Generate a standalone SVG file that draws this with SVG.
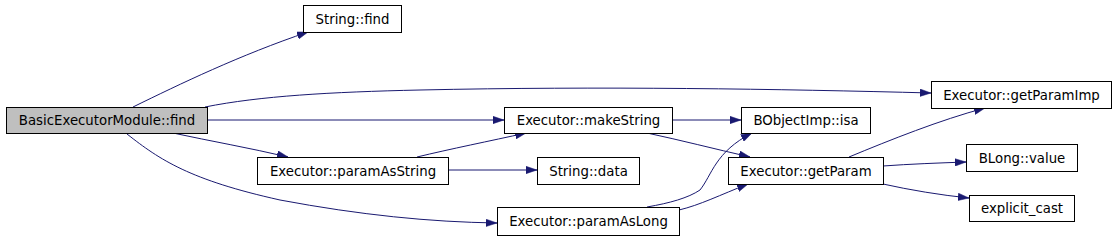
<svg xmlns="http://www.w3.org/2000/svg" width="1117" height="240" viewBox="0 0 1117 240">
<style>
.n rect{fill:#fff;stroke:#000;stroke-width:1}
.n.h rect{fill:#bfbfbf}
.n text{font-family:"DejaVu Sans",sans-serif;font-size:13.3px;text-anchor:middle;fill:#000}
.e path{fill:none;stroke:#191970;stroke-width:1;marker-end:url(#a)}
</style>
<defs>
<marker id="a" markerUnits="userSpaceOnUse" markerWidth="12" markerHeight="8" refX="11" refY="4" orient="auto">
<path d="M0,0.3 L11,4 L0,7.7 z" fill="#191970" stroke="#191970" stroke-width="0.5"/>
</marker>
</defs>
<g id="connectors" class="e">
<path d="M133,107 C180,84 240,55 308,32"/>
<path d="M205,107 C260,96 330,92 420,90 C600,86 780,89 931,93"/>
<path d="M207,120 L504,120"/>
<path d="M173,133 C210,141 250,148 288,157"/>
<path d="M127,134 C160,160 190,180 280,200 C360,215 430,222 497,223"/>
<path d="M417,157 C450,149 490,141 526,133"/>
<path d="M448,170 L537,170"/>
<path d="M672,120 L741,120"/>
<path d="M647,133 C680,140 715,149 750,157"/>
<path d="M647,207 C670,203 688,198 700,190 C712,175 715,152 752,133"/>
<path d="M679,210 C700,205 720,195 748,184"/>
<path d="M849,157 C890,140 940,120 985,108"/>
<path d="M883,166 C910,164 938,163 966,162"/>
<path d="M883,184 C910,190 940,195 969,198"/>
</g>
<g id="BasicExecutorModule_find" class="n h"><rect x="6.5" y="107.5" width="201" height="26"/><text x="107" y="124.5">BasicExecutorModule::find</text></g>
<g id="String_find" class="n"><rect x="303.5" y="5.5" width="98" height="27"/><text x="352.5" y="23.5">String::find</text></g>
<g id="Executor_paramAsString" class="n"><rect x="257.5" y="157.5" width="191" height="27"/><text x="353" y="175.5">Executor::paramAsString</text></g>
<g id="Executor_makeString" class="n"><rect x="504.5" y="107.5" width="168" height="26"/><text x="588.5" y="124.5">Executor::makeString</text></g>
<g id="String_data" class="n"><rect x="537.5" y="157.5" width="102" height="27"/><text x="588.5" y="175.5">String::data</text></g>
<g id="Executor_paramAsLong" class="n"><rect x="497.5" y="207.5" width="182" height="28"/><text x="588.5" y="225.5">Executor::paramAsLong</text></g>
<g id="Executor_getParamImp" class="n"><rect x="931.5" y="81.5" width="180" height="27"/><text x="1021.5" y="99.5">Executor::getParamImp</text></g>
<g id="BObjectImp_isa" class="n"><rect x="741.5" y="107.5" width="129" height="26"/><text x="806" y="124.5">BObjectImp::isa</text></g>
<g id="Executor_getParam" class="n"><rect x="728.5" y="157.5" width="155" height="27"/><text x="806" y="175.5">Executor::getParam</text></g>
<g id="BLong_value" class="n"><rect x="966.5" y="144.5" width="111" height="27"/><text x="1022" y="162.5">BLong::value</text></g>
<g id="explicit_cast" class="n"><rect x="969.5" y="195.5" width="105" height="26"/><text x="1022" y="212.5">explicit_cast</text></g>
</svg>
